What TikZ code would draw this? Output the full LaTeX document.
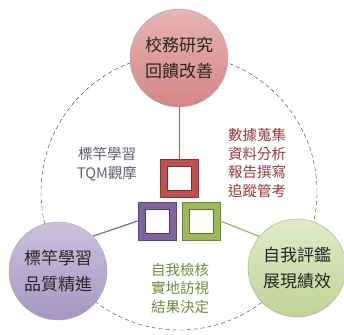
\documentclass[tikz,border=0pt]{standalone}
\usepackage{fontspec}
\usepackage{tikz}
\newfontfamily\cjk{Noto Sans CJK TC}
\definecolor{offred}{HTML}{C0504D}
\definecolor{offpurple}{HTML}{8064A2}
\definecolor{offgreen}{HTML}{9BBB59}
\definecolor{redtext}{HTML}{8E3A38}
\definecolor{purpletext}{HTML}{655A75}
\definecolor{greentext}{HTML}{6E8A3A}
\begin{document}
\begin{tikzpicture}[x=1pt, y=-1pt,
	every node/.style = {align=center, inner sep=0pt},
	bigcircle/.style = {circle, minimum size=98pt, draw=gray!70, thin,
		font=\cjk\fontsize{17}{26}\selectfont, text=black!85},
	frame/.style = {rectangle, minimum size=38pt, line width=0.8pt},
	hole/.style = {rectangle, minimum size=24pt, fill=white, line width=0.8pt},
	note/.style = {font=\cjk\fontsize{14.5}{18.5}\selectfont}]
	\useasboundingbox (0,0) rectangle (344,334);
	\draw[dash pattern=on 4pt off 3pt, black!80, thin] (179,192) circle (138pt);
	
	\node[bigcircle, top color={rgb,255:red,232;green,180;blue,180},
		bottom color={rgb,255:red,212;green,134;blue,134}] (research) at (179,58) {校務研究\\回饋改善};
	\node[bigcircle, top color={rgb,255:red,204;green,194;blue,222},
		bottom color={rgb,255:red,166;green,150;blue,194}] (bench) at (58,271) {標竿學習\\品質精進};
	\node[bigcircle, top color={rgb,255:red,224;green,234;blue,200},
		bottom color={rgb,255:red,192;green,212;blue,150}] (selfeval) at (297,268) {自我評鑑\\展現績效};
	
	\node[frame, fill=offred, draw=offred!70!black] (redsq) at (179,178) {};
	\node[hole, draw=offred!60!black] at (redsq) {};
	\node[frame, fill=offpurple, draw=offpurple!70!black] (purplesq) at (157,221) {};
	\node[hole, draw=offpurple!60!black] at (purplesq) {};
	\node[frame, fill=offgreen, draw=offgreen!70!black] (greensq) at (201,221) {};
	\node[hole, draw=offgreen!60!black] at (greensq) {};
	
	\draw[offred, line width=1pt] (research) -- (redsq);
	\draw[offpurple, line width=1.2pt] (bench.45) -- (purplesq.west);
	\draw[offgreen, line width=1.2pt] (greensq.east) -- (selfeval.140);
	
	\node[note, text=purpletext] (tqm) at (107,164) {標竿學習\\TQM觀摩};
	\node[note, text=redtext] (data) at (257,163) {數據蒐集\\資料分析\\報告撰寫\\追蹤管考};
	\node[note, text=greentext] (check) at (180,288) {自我檢核\\實地訪視\\結果決定};
\end{tikzpicture}
\end{document}
